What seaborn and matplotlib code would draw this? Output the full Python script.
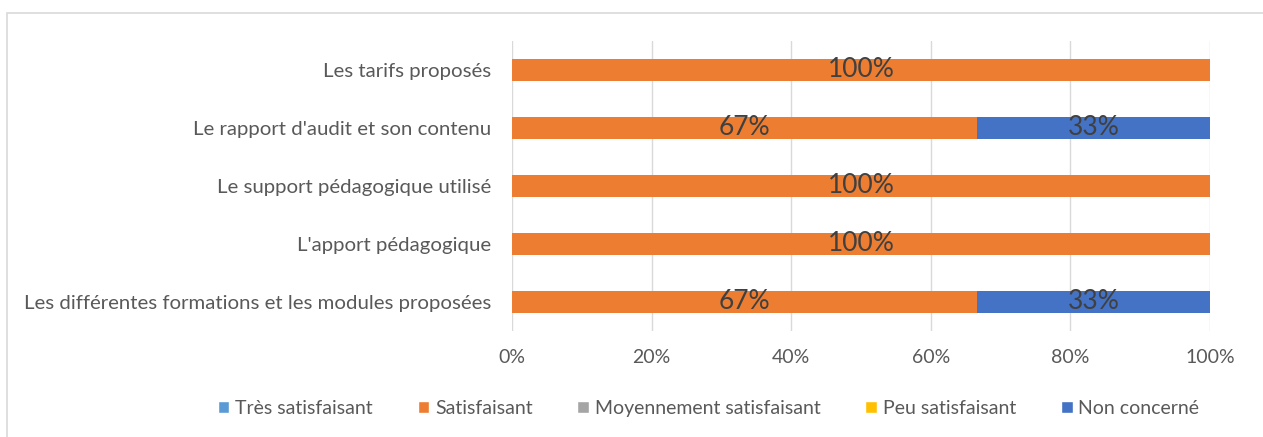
import numpy as np
import pandas as pd
import matplotlib.pyplot as plt
import seaborn as sns
from matplotlib.patches import Patch, Rectangle

# Survey answers, share of respondents (%) per item, top to bottom
items = ["Les tarifs proposés",
         "Le rapport d'audit et son contenu",
         "Le support pédagogique utilisé",
         "L'apport pédagogique",
         "Les différentes formations et les modules proposées"]
tres_satisfaisant = [0, 0, 0, 0, 0]
satisfaisant = [100, 66.67, 100, 100, 66.67]
moyennement = [0, 0, 0, 0, 0]
peu_satisfaisant = [0, 0, 0, 0, 0]
non_concerne = [0, 33.33, 0, 0, 33.33]

series = ["Très satisfaisant", "Satisfaisant", "Moyennement satisfaisant",
          "Peu satisfaisant", "Non concerné"]
colors = ["#5B9BD5", "#ED7D31", "#A5A5A5", "#FFC000", "#4472C4"]
pct_ticks = [0, 20, 40, 60, 80, 100]

df = pd.DataFrame(
    dict(zip(series, [tres_satisfaisant, satisfaisant, moyennement,
                      peu_satisfaisant, non_concerne])),
    index=items)
cum = df.cumsum(axis=1)

sns.set_theme(style="white")
plt.rcParams['font.family'] = ['Lato', 'DejaVu Sans']

fig = plt.figure(figsize=(12.63, 4.37), dpi=100)
ax = fig.add_axes([0.4054, 0.2426, 0.5527, 0.664])

# stacked bars: draw cumulative totals from the last series backwards
for name, col in reversed(list(zip(series, colors))):
    sns.barplot(x=cum[name].values, y=items, orient="h", color=col,
                width=0.38, ax=ax, saturation=1, linewidth=0)

# value labels centred in each segment
for j, name in enumerate(series):
    left = cum[name] - df[name]
    for i, item in enumerate(items):
        v = df.loc[item, name]
        if v > 0:
            ax.text(left.iloc[i] + v / 2, i, f"{v:.0f}%", ha="center",
                    va="center", fontsize=19, color="#404040")

ax.set_xlim(0, 100)
ax.set_ylim(4.5, -0.5)
ax.set_xticks(pct_ticks)
ax.set_xticklabels([f"{t}%" for t in pct_ticks])
ax.xaxis.grid(True, color="#D9D9D9", linewidth=1)
ax.set_axisbelow(True)
for s in ax.spines.values():
    s.set_visible(False)
ax.tick_params(axis="x", length=0, labelsize=14, labelcolor="#595959", pad=13)
ax.tick_params(axis="y", length=0, labelsize=14.7, labelcolor="#595959", pad=15)
ax.set_xlabel("")
ax.set_ylabel("")

handles = [Patch(facecolor=c, label=n) for n, c in zip(series, colors)]
fig.legend(handles=handles, loc="center", bbox_to_anchor=(0.561, 0.066),
           ncol=5, frameon=False, fontsize=14, handlelength=0.6,
           handleheight=0.6, handletextpad=0.3, columnspacing=2.3,
           labelcolor="#595959")

# outer chart border
fig.patches.append(Rectangle((7 / 1263, -0.2), 2, 1.2 - 13 / 437,
                             transform=fig.transFigure, fill=False,
                             edgecolor="#D9D9D9", linewidth=1.2))

fig.savefig("out.png", dpi=100)
